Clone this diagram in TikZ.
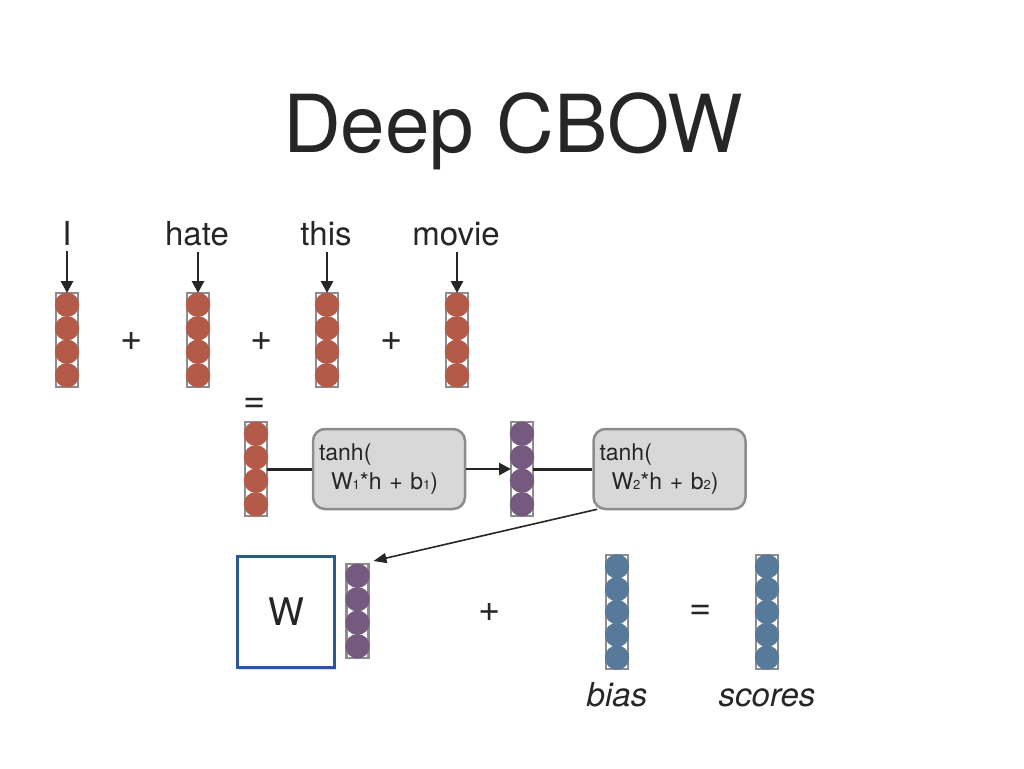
\documentclass[tikz,border=0pt]{standalone}
\usepackage{fontspec}
\setmainfont{TeX Gyre Heros}
\usetikzlibrary{arrows.meta,shadows,calc}
\definecolor{txt}{HTML}{262626}
\definecolor{wred}{HTML}{B45A48}
\definecolor{hpur}{HTML}{76597F}
\definecolor{sblue}{HTML}{587A9A}
\definecolor{framec}{HTML}{8C8C8C}
\definecolor{boxfill}{HTML}{D8D8D8}
\definecolor{wblue}{HTML}{2A5A96}
\tikzset{
  vecframe/.style={draw=framec, line width=2.2pt, fill=white, minimum width=22pt, inner sep=0pt, outer sep=0pt},
  word/.style={font=\fontsize{33}{36}\selectfont, text=txt, anchor=base, inner sep=6pt},
  opsign/.style={font=\fontsize{38}{40}\selectfont, text=txt, inner sep=0pt},
  label/.style={font=\fontsize{33}{36}\selectfont\itshape, text=txt, anchor=base},
  funcbox/.style={draw=framec, line width=2.5pt, fill=boxfill, rounded corners=12pt, text width=140pt, minimum height=80pt, align=left, font=\fontsize{23}{29}\selectfont, text=txt, inner sep=6pt},
  conn/.style={draw=txt, line width=3pt},
  arr/.style={draw=txt, line width=2.8pt, -{Triangle[length=12pt,width=12pt]}},
  thinarr/.style={draw=txt, line width=1.6pt, -{Triangle[length=13pt,width=10pt]}},
  matbox/.style={draw=wblue, line width=3pt, fill=white, minimum width=97pt, minimum height=111pt, inner sep=0pt,
    drop shadow={opacity=0.3, shadow xshift=1pt, shadow yshift=-2pt}, font=\fontsize{38}{40}\selectfont, text=txt},
}
\newcommand{\sub}[1]{\raisebox{-0.5pt}{\fontsize{13}{13}\selectfont #1}}
% name, center x, top y, count, colour, step
\newcommand{\wvec}[6]{%
  \node[vecframe, minimum height={#4*#6*1pt}] (#1) at (#2, {#3+#4*#6/2}) {};
  \foreach \k in {1,...,#4} \fill[#5] (#2, {#3+#6/2+(\k-1)*#6}) circle (12.2pt);
}
\begin{document}
\begin{tikzpicture}[x=1pt,y=-1pt]
\fill[white] (0,0) rectangle (1024,768);
\useasboundingbox (0,0) rectangle (1024,768);

% title
\node[font=\fontsize{80}{88}\selectfont, text=txt, anchor=base] (title) at (513,152) {Deep CBOW};

% words
\node[word] (wI) at (67,245) {I};
\node[word] (whate) at (197,245) {hate};
\node[word] (wthis) at (326,245) {this};
\node[word] (wmovie) at (456,245) {movie};

% word vectors
\wvec{v1}{67}{293}{4}{wred}{23.5}
\wvec{v2}{198}{293}{4}{wred}{23.5}
\wvec{v3}{327}{293}{4}{wred}{23.5}
\wvec{v4}{457}{293}{4}{wred}{23.5}

\draw[arr] (wI.south -| v1) -- (v1.north);
\draw[arr] (whate.south -| v2) -- (v2.north);
\draw[arr] (wthis.south -| v3) -- (v3.north);
\draw[arr] (wmovie.south -| v4) -- (v4.north);

\node[opsign] (p1) at (132,341) {+};
\node[opsign] (p2) at (262,341) {+};
\node[opsign] (p3) at (392,341) {+};
\node[opsign] (eq1) at (255,405) {=};

% hidden layers
\wvec{hsum}{256}{422}{4}{wred}{23.5}
\node[funcbox] (f1) at (389,469) {tanh(\\\hspace*{12pt}W\sub{1}*h + b\sub{1})};
\wvec{h1}{522}{422}{4}{hpur}{23.5}
\node[funcbox] (f2) at (669.5,469) {tanh(\\\hspace*{12pt}W\sub{2}*h + b\sub{2})};

\draw[conn] (hsum.east) -- (f1.west);
\draw[arr] (f1.east) -- (h1.west);
\draw[conn] (h1.east) -- (f2.west);

% output
\node[matbox] (W) at (286,612) {W};
\wvec{h2}{357.5}{564}{4}{hpur}{23.5}
\draw[thinarr] ($(f2.south west)+(5,-1)$) -- ($(h2.north east)+(5,-3)$);

\node[opsign] (p4) at (490,612) {+};
\wvec{bias}{617}{555}{5}{sblue}{22.8}
\node[opsign] (eq2) at (701,612) {=};
\wvec{scores}{767}{555}{5}{sblue}{22.8}

\node[label] (lbias) at (617,706) {bias};
\node[label] (lscores) at (767,706) {scores};
\end{tikzpicture}
\end{document}
